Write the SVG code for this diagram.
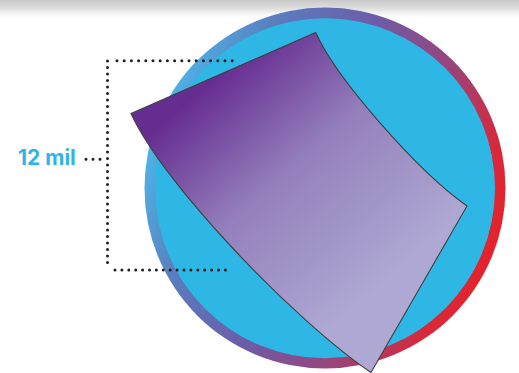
<svg xmlns="http://www.w3.org/2000/svg" width="519" height="373" viewBox="0 0 519 373">
  <defs>
    <linearGradient id="topShade" x1="0" y1="0" x2="0" y2="1">
      <stop offset="0" stop-color="#c8c8c8"/>
      <stop offset="0.5" stop-color="#e4e4e4"/>
      <stop offset="1" stop-color="#ffffff" stop-opacity="0"/>
    </linearGradient>
    <linearGradient id="ringGrad" gradientUnits="userSpaceOnUse" x1="160" y1="110" x2="500" y2="245">
      <stop offset="0" stop-color="#4DB6E8"/>
      <stop offset="0.2" stop-color="#5A7DBE"/>
      <stop offset="0.45" stop-color="#6C5CA8"/>
      <stop offset="0.7" stop-color="#9A4478"/>
      <stop offset="0.9" stop-color="#D9283A"/>
      <stop offset="1" stop-color="#E52229"/>
    </linearGradient>
    <linearGradient id="sheetGrad" gradientUnits="userSpaceOnUse" x1="195" y1="95" x2="370" y2="295">
      <stop offset="0" stop-color="#662D91"/>
      <stop offset="0.45" stop-color="#9480BC"/>
      <stop offset="1" stop-color="#AEA8D3"/>
    </linearGradient>
  </defs>
  <style>
    .dots { fill: none; stroke: #231F20; stroke-width: 3; stroke-linecap: round; }
    .label { font-family: Inter, "Open Sans", "Liberation Sans", sans-serif; font-weight: 700; font-size: 21px; fill: #2EB5E4; }
    .sheet { fill: url(#sheetGrad); stroke: #404040; stroke-width: 1.1; stroke-linejoin: miter; }
  </style>
  <rect x="0" y="0" width="519" height="373" fill="#ffffff"/>
  <rect x="0" y="0" width="519" height="20" fill="url(#topShade)"/>

  <g id="disc">
    <circle cx="325" cy="188" r="180.5" fill="url(#ringGrad)"/>
    <circle cx="325" cy="188.3" r="170" fill="#2EB6E4"/>
  </g>

  <g id="connectors">
    <path class="dots" d="M107.5 61 V269" stroke-dasharray="0 6.5"/>
    <path class="dots" d="M117 60.7 H233" stroke-dasharray="0 7.2"/>
    <path class="dots" d="M115 270 H226" stroke-dasharray="0 6.9"/>
    <path class="dots" d="M86 159.3 H101" stroke-dasharray="0 7"/>
  </g>

  <g id="sheet">
    <path class="sheet" d="M131 113.5 L315.7 32.5 C336 78 417 171 467 206 L371 372.5 C296 322 163 184 131 113.5 Z"/>
  </g>

  <g id="label">
    <text class="label" x="18" y="164.5">12 mil</text>
  </g>
</svg>
